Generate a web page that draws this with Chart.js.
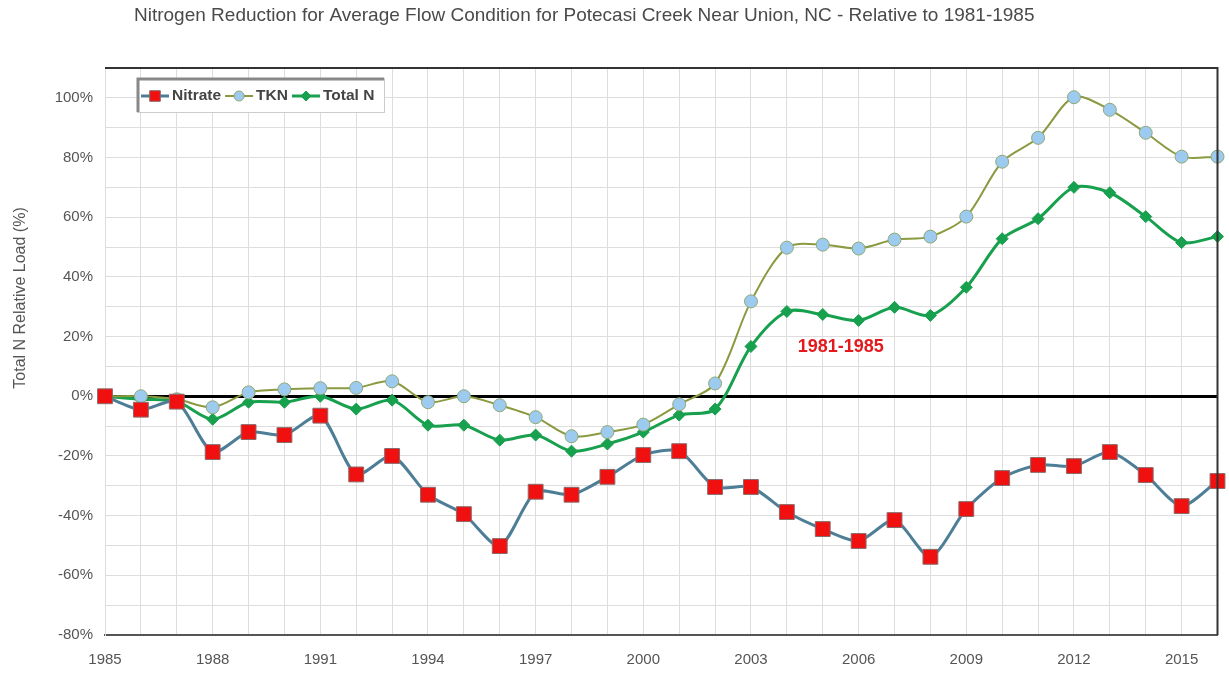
<!DOCTYPE html>
<html>
<head>
<meta charset="utf-8">
<script src="https://cdn.jsdelivr.net/npm/chart.js@4.4.0/dist/chart.umd.min.js"></script>
<style>
html, body { margin: 0; padding: 0; background: #fff; }
#wrap { width: 1229px; height: 673px; }
</style>
</head>
<body>
<div id="wrap"><canvas id="myChart"></canvas></div>
<script>
// data (percent change relative to 1981-1985)
var years = ['1985','1986','1987','1988','1989','1990','1991','1992','1993','1994','1995',
  '1996','1997','1998','1999','2000','2001','2002','2003','2004','2005','2006','2007',
  '2008','2009','2010','2011','2012','2013','2014','2015','2016'];
var nitrate = [0, -4.5, -1.8, -18.7, -12, -13, -6.5, -26.2, -20, -33, -39.5,
  -50.2, -32, -33, -27, -19.7, -18.4, -30.4, -30.4, -38.8, -44.5, -48.5, -41.5,
  -53.8, -37.8, -27.4, -23, -23.4, -18.7, -26.4, -36.8, -28.4];
var tkn = [0, 0, -1, -3.7, 1.3, 2.3, 2.7, 2.8, 5, -2, 0,
  -3, -7, -13.4, -12, -9.5, -2.7, 4.3, 31.8, 49.8, 50.8, 49.5, 52.5,
  53.5, 60.2, 78.6, 86.6, 100.2, 96, 88.3, 80.3, 80.3];
var totalN = [0, -1, -1.7, -7.7, -2, -2, 0, -4.3, -1.3, -9.7, -9.7,
  -14.7, -13, -18.4, -16, -12, -6.3, -4.3, 16.7, 28.4, 27.4, 25.4, 29.8,
  27.1, 36.5, 52.8, 59.5, 70, 68.2, 60.2, 51.5, 53.5];

var chartTitle = 'Nitrogen Reduction for Average Flow Condition for Potecasi Creek Near Union, NC - Relative to 1981-1985';
var yTitle = 'Total N Relative Load (%)';
var baseLabel = '1981-1985';

function drawMarker(ctx, style, x, y, r) {
  ctx.beginPath();
  if (style === 'rect') {
    var s = r * Math.SQRT1_2;
    ctx.rect(x - s, y - s, 2 * s, 2 * s);
  } else if (style === 'rectRot') {
    ctx.moveTo(x - r, y); ctx.lineTo(x, y - r); ctx.lineTo(x + r, y); ctx.lineTo(x, y + r);
    ctx.closePath();
  } else {
    ctx.arc(x, y, r, 0, Math.PI * 2);
  }
  ctx.fill();
  ctx.stroke();
}

// frame, legend box, titles and the 1981-1985 label
var extras = {
  id: 'extras',
  afterDraw: function(chart) {
    var ctx = chart.ctx;
    var a = chart.chartArea;
    ctx.save();

    ctx.strokeStyle = '#333';
    ctx.lineWidth = 2;
    ctx.beginPath();
    ctx.moveTo(a.left, a.top);
    ctx.lineTo(a.right, a.top);
    ctx.lineTo(a.right, a.bottom);
    ctx.stroke();

    // title
    ctx.fillStyle = '#4a4a4a';
    ctx.font = '19px "Liberation Sans", Arial, sans-serif';
    ctx.textAlign = 'left';
    ctx.textBaseline = 'middle';
    ctx.fillText(chartTitle, 134, 16);

    // y axis title
    ctx.save();
    ctx.translate(21, 298);
    ctx.rotate(-Math.PI / 2);
    ctx.textAlign = 'center';
    ctx.fillStyle = '#555';
    ctx.font = '16px "Liberation Sans", Arial, sans-serif';
    ctx.fillText(yTitle, 0, 0);
    ctx.restore();

    // base period label
    var xs = chart.scales.x, ys = chart.scales.y;
    var px = (xs.getPixelForValue(20) + xs.getPixelForValue(21)) / 2;
    ctx.fillStyle = '#e3191c';
    ctx.font = 'bold 18px "Liberation Sans", Arial, sans-serif';
    ctx.textAlign = 'center';
    ctx.fillText(baseLabel, px, ys.getPixelForValue(16.5));

    // legend
    var bx = a.left + 32, by = a.top + 10, bw = 247, bh = 34;
    ctx.fillStyle = '#fff';
    ctx.fillRect(bx, by, bw, bh);
    ctx.strokeStyle = '#ccc';
    ctx.lineWidth = 1;
    ctx.strokeRect(bx + 0.5, by + 0.5, bw, bh);
    ctx.strokeStyle = '#888';
    ctx.lineWidth = 3;
    ctx.beginPath();
    ctx.moveTo(bx + 1, by + bh);
    ctx.lineTo(bx + 1, by + 1);
    ctx.lineTo(bx + bw, by + 1);
    ctx.stroke();

    var cx = bx + 4, cy = by + bh / 2 + 1;
    ctx.font = 'bold 15.5px "Liberation Sans", Arial, sans-serif';
    ctx.textAlign = 'left';
    chart.data.datasets.forEach(function(ds) {
      ctx.strokeStyle = ds.borderColor;
      ctx.lineWidth = ds.borderWidth;
      ctx.beginPath();
      ctx.moveTo(cx, cy);
      ctx.lineTo(cx + 28, cy);
      ctx.stroke();
      ctx.fillStyle = ds.pointBackgroundColor;
      ctx.strokeStyle = ds.pointBorderColor;
      ctx.lineWidth = 1;
      drawMarker(ctx, ds.pointStyle, cx + 14, cy, ds.pointStyle === 'rect' ? 7.5 : 5);
      ctx.fillStyle = '#444';
      ctx.fillText(ds.label, cx + 31, cy);
      cx += 31 + ctx.measureText(ds.label).width + 4;
    });

    ctx.restore();
  }
};

var ctx = document.getElementById('myChart').getContext('2d');
var myChart = new Chart(ctx, {
  type: 'line',
  data: {
    labels: years,
    datasets: [{
      label: 'Nitrate',
      data: nitrate,
      borderColor: '#4d7e96',
      borderWidth: 3,
      pointStyle: 'rect',
      pointRadius: 10.5,
      pointBackgroundColor: '#f01010',
      pointBorderColor: '#8a6a6a',
      pointBorderWidth: 1,
      tension: 0.25,
      clip: false
    }, {
      label: 'TKN',
      data: tkn,
      borderColor: '#8a9a40',
      borderWidth: 2,
      pointStyle: 'circle',
      pointRadius: 6.5,
      pointBackgroundColor: '#9dcbf0',
      pointBorderColor: '#8fa878',
      pointBorderWidth: 1,
      tension: 0.3,
      clip: false
    }, {
      label: 'Total N',
      data: totalN,
      borderColor: '#17a04d',
      borderWidth: 3,
      pointStyle: 'rectRot',
      pointRadius: 6,
      pointBackgroundColor: '#17a04d',
      pointBorderColor: '#17a04d',
      pointBorderWidth: 1,
      tension: 0.3,
      clip: false
    }]
  },
  options: {
    responsive: true,
    maintainAspectRatio: false,
    animation: false,
    layout: { padding: { top: 68, right: 10, left: 0, bottom: 0 } },
    plugins: {
      legend: { display: false },
      tooltip: { enabled: false }
    },
    scales: {
      x: {
        offset: false,
        grid: { color: '#dddddd', lineWidth: 1, drawTicks: false },
        border: { color: '#555', width: 2 },
        ticks: {
          autoSkip: false,
          maxRotation: 0,
          padding: 16,
          color: '#555',
          font: { size: 15, family: '"Liberation Sans", Arial, sans-serif' },
          callback: function(v, i) { return i % 3 === 0 ? years[i] : ''; }
        },
        afterFit: function(s) { s.height = 38; s.paddingLeft = 0; s.paddingRight = 0; }
      },
      y: {
        min: -80,
        max: 110,
        grid: {
          drawTicks: false,
          color: function(c) { return c.tick && c.tick.value === 0 ? '#000' : '#dddddd'; },
          lineWidth: function(c) { return c.tick && c.tick.value === 0 ? 3 : 1; }
        },
        border: { color: '#dddddd', width: 1 },
        ticks: {
          stepSize: 10,
          padding: 12,
          color: '#555',
          font: { size: 15, family: '"Liberation Sans", Arial, sans-serif' },
          callback: function(v) { return v % 20 === 0 ? v + '%' : ''; }
        },
        afterFit: function(s) { s.width = 105; }
      }
    }
  },
  plugins: [extras]
});
</script>
</body>
</html>
